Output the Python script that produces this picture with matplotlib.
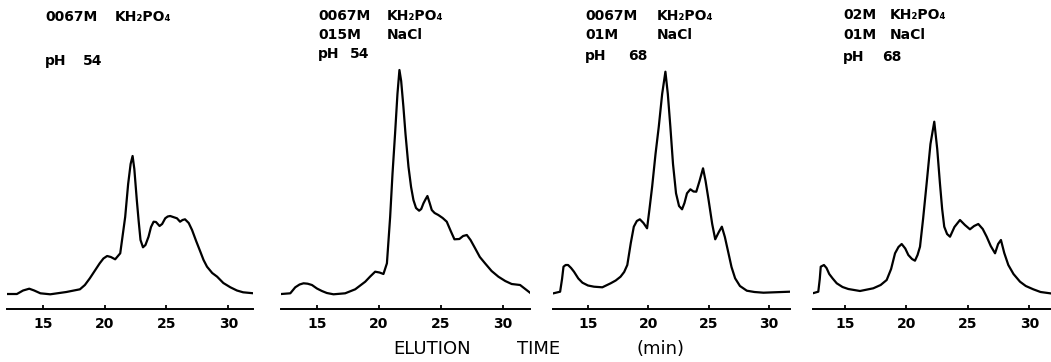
import matplotlib
matplotlib.use("Agg")
import matplotlib.pyplot as plt

# --- Data (height in arbitrary units) ---

T1 = [12.1, 12.9, 13.4, 13.9, 14.3, 14.8, 15.6, 16.9, 18.0, 18.4, 18.8, 19.6,
      19.9, 20.2, 20.5, 20.85, 21.26, 21.66, 21.9, 22.1, 22.26, 22.4, 22.6,
      22.75, 22.9, 23.1, 23.3, 23.55, 23.75, 23.96, 24.15, 24.44, 24.65, 24.9,
      25.1, 25.3, 25.85, 26.1, 26.3, 26.5, 26.8, 27.07, 27.4, 27.74, 28.0,
      28.28, 28.7, 29.1, 29.6, 30.17, 30.7, 31.2, 32.05]
H1 = [15, 15, 18.5, 20.3, 18.5, 15.7, 14.7, 17, 19.7, 24, 30.7, 45.7,
      50.5, 53, 52, 49.7, 55.7, 92, 125, 145, 153, 140, 109,
      88, 69, 61.7, 64, 72.3, 82, 87.3, 87, 83, 85, 90.7,
      92.5, 93, 90.7, 87.3, 89, 89.7, 86, 79, 68, 57.3, 49,
      42.3, 36, 32.3, 26, 21.7, 18.5, 16.7, 15.7]

T2 = [12.12, 12.85, 13.25, 13.6, 13.92, 14.25, 14.6, 15.0, 15.4, 15.8, 16.34,
      17.28, 18.09, 18.9, 19.3, 19.7, 20.05, 20.37, 20.65, 20.91, 21.1, 21.31,
      21.5, 21.66, 21.8, 21.98, 22.15, 22.39, 22.6, 22.79, 23.0, 23.25, 23.42,
      23.6, 23.78, 23.92, 24.1, 24.27, 24.5, 24.8, 25.15, 25.48, 25.8, 26.1,
      26.5, 26.8, 27.1, 27.4, 27.77, 28.15, 28.57, 29.1, 29.65, 30.2, 30.72,
      31.4, 32.2]
H2 = [15, 15.7, 21.7, 24.5, 25.7, 25.3, 24, 20.5, 18, 16, 14.7,
      15.7, 19.7, 27.3, 32.5, 37.3, 36.5, 35, 45.7, 92, 135, 175.7,
      215, 239, 228, 202.3, 175, 142.3, 122, 109, 101, 98.3, 100,
      105.7, 110, 113, 106, 99, 96, 94, 91, 87.3, 78, 69.7,
      70, 73, 74, 69, 60.7, 52, 45.7, 38, 32.3, 28, 25,
      24, 16.3]

T3 = [12.14, 12.69, 12.85, 12.97, 13.15, 13.35, 13.6, 13.84, 14.2, 14.54, 15.0,
      15.5, 16.19, 16.88, 17.3, 17.7, 18.0, 18.26, 18.55, 18.8, 19.05, 19.3,
      19.6, 19.9, 20.1, 20.32, 20.6, 20.87, 21.15, 21.42, 21.62, 21.83, 22.05,
      22.3, 22.55, 22.8, 23.0, 23.21, 23.49, 23.75, 23.98, 24.25, 24.54, 24.75,
      25.0, 25.3, 25.55, 25.85, 26.1, 26.35, 26.65, 26.9, 27.2, 27.6, 28.17,
      28.8, 29.55, 31.75]
H3 = [15.7, 17.3, 30, 42.3, 44, 44, 41, 37.3, 30.5, 26.3, 23.5,
      22.3, 21.7, 25.7, 28.5, 32.3, 37, 44, 66, 82.3, 88, 89.7,
      86, 80.7, 100, 122.3, 155, 182.3, 215, 237.3, 215, 182.3, 145,
      115.7, 103, 99.7, 106, 115.7, 119.7, 117.5, 117.3, 128, 140.7, 128,
      109, 85, 69.7, 77, 82.3, 72, 55.7, 42, 30.7, 23, 18.3,
      17, 16.3, 17.3]

T4 = [12.37, 12.83, 12.95, 13.03, 13.29, 13.5, 13.72, 14.0, 14.33, 14.8, 15.27,
      16.22, 17.3, 17.9, 18.39, 18.75, 19.07, 19.35, 19.61, 19.9, 20.15, 20.45,
      20.69, 20.9, 21.1, 21.35, 21.64, 21.95, 22.26, 22.5, 22.72, 22.9, 23.07,
      23.3, 23.54, 23.9, 24.35, 24.75, 25.16, 25.5, 25.84, 26.2, 26.52, 26.85,
      27.2, 27.45, 27.68, 27.95, 28.28, 28.7, 29.23, 29.7, 30.31, 30.9, 31.67]
H4 = [15.7, 17.3, 30, 42.3, 44, 41, 35, 30.5, 25.7, 22, 20,
      18, 20.7, 24, 29, 40, 55.7, 62, 65, 60.5, 54, 50,
      48.3, 54, 62.3, 90, 125.7, 165, 187.3, 160, 125.7, 100, 82.3,
      75, 72.3, 82, 89, 84, 79.7, 83, 85, 80, 72.3, 63,
      55.7, 65, 69, 56, 44, 35, 27.3, 23, 19.7, 17, 15.7]

# header rows per panel: (left column, right column)
HEADERS = [
    [("0067M", "KH\u2082PO\u2084"), None, ("pH", "54")],
    [("0067M", "KH\u2082PO\u2084"), ("015M", "NaCl"), ("pH", "54")],
    [("0067M", "KH\u2082PO\u2084"), ("01M", "NaCl"), ("pH", "68")],
    [("02M", "KH\u2082PO\u2084"), ("01M", "NaCl"), ("pH", "68")],
]
TICKS = [15, 20, 25, 30]

# --- Layout (pixel boxes of the scan) ---

W, H = 1051, 362
AXIS_Y = 309          # pixel row of the time axis
TOP_Y = 59            # top of plotting area
PANELS = [
    # (left px, right px, t_min, t_max, header x px, second column x px, pH value x px)
    (7, 253, 12.1, 32.0, 45, 115, 83),
    (281, 530, 12.1, 32.2, 318, 387, 350),
    (553, 790, 12.1, 31.75, 585, 657, 628),
    (813, 1051, 12.4, 31.75, 843, 890, 882),
]
HEADER_ROWS = [[17, None, 61], [16, 35, 54], [16, 35, 56], [15, 35, 57]]


def px_box(left, right):
    return [left / W, (H - AXIS_Y) / H, (right - left) / W, (AXIS_Y - TOP_Y) / H]


def px_text(x, y, s, **kw):
    fig.text(x / W, 1 - y / H, s, ha="left", va="center", **kw)


fig = plt.figure(figsize=(W / 100, H / 100), dpi=100)

series = [(T1, H1), (T2, H2), (T3, H3), (T4, H4)]
for panel, (t, h), header, rows in zip(PANELS, series, HEADERS, HEADER_ROWS):
    left, right, t0, t1, hx, hx2, phx = panel
    ax = fig.add_axes(px_box(left, right))
    ax.plot(t, h, color="black", linewidth=1.6, solid_joinstyle="round")
    ax.set_xlim(t0, t1)
    ax.set_ylim(0, AXIS_Y - TOP_Y)
    for side in ("top", "left", "right"):
        ax.spines[side].set_visible(False)
    ax.spines["bottom"].set_linewidth(1.4)
    ax.set_yticks([])
    ax.set_xticks(TICKS)
    ax.tick_params(axis="x", direction="in", length=3, width=1.3, pad=6,
                   labelsize=10)
    for lab in ax.get_xticklabels():
        lab.set_fontweight("bold")
    ax.patch.set_visible(False)

    for i, (entry, row) in enumerate(zip(header, rows)):
        if entry is None:
            continue
        x2 = phx if i == 2 else hx2
        px_text(hx, row, entry[0], fontsize=10, fontweight="bold")
        px_text(x2, row, entry[1], fontsize=10, fontweight="bold")

px_text(393, 349, "ELUTION", fontsize=13)
px_text(517, 349, "TIME", fontsize=13)
px_text(637, 349, "(min)", fontsize=13)

fig.savefig("out.png", dpi=100)
